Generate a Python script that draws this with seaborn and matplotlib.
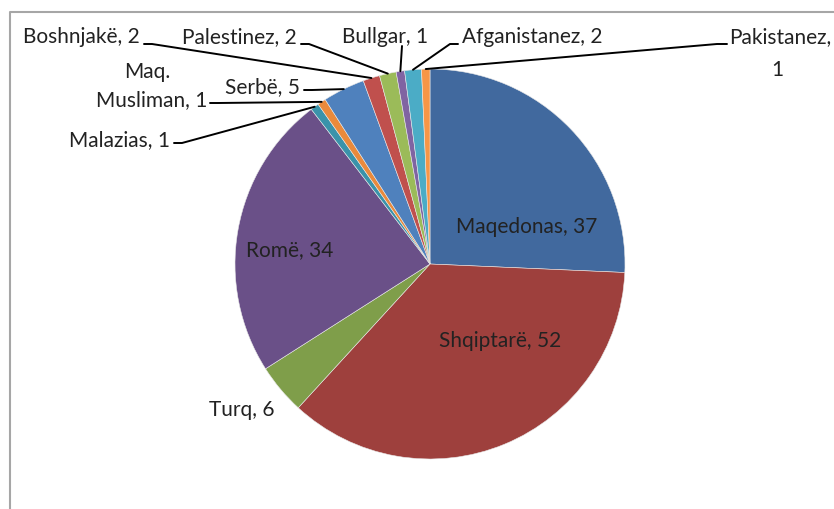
import numpy as np
import matplotlib
matplotlib.use("Agg")
import matplotlib.pyplot as plt
import seaborn as sns

# data (clockwise from 12 o'clock)
groups = ["Maqedonas", "Shqiptarë", "Turq", "Romë", "Malazias", "Maq.\nMusliman",
          "Serbë", "Boshnjakë", "Palestinez", "Bullgar", "Afganistanez", "Pakistanez"]
counts = [37, 52, 6, 34, 1, 1, 5, 2, 2, 1, 2, 1]
colors = ["#41699E", "#9E403D", "#7F9E4A", "#6A5088", "#3A93AA", "#E98A3C",
          "#4F81BD", "#C0504D", "#9BBB59", "#8064A2", "#4BACC6", "#F79646"]

sns.set_style("white")
plt.rcParams["font.family"] = ["Lato", "DejaVu Sans"]

W, H = 834, 510
fig = plt.figure(figsize=(W / 100, H / 100), dpi=100)
ax = fig.add_axes([0, 0, 1, 1])

cx, cy, r = 430, H - 265, 195
wedges, _ = ax.pie(counts, colors=colors, startangle=90, counterclock=False,
                   center=(cx, cy), radius=r, frame=True,
                   wedgeprops=dict(linewidth=0.4, edgecolor="#e8e8e8"))
ax.set_xlim(0, W)
ax.set_ylim(0, H)
ax.set_aspect("equal")
ax.axis("off")

# chart area border
ax.plot([10, 10, W + 5], [-5, H - 13, H - 13], color="#a6a6a6", lw=1.5, clip_on=False)

total = sum(counts)
cum = np.cumsum([0] + counts[:-1])
mid = 90 - 360 * (cum + np.array(counts) / 2) / total


def edge(i):
    a = np.deg2rad(mid[i])
    return cx + r * np.cos(a), cy + r * np.sin(a)


fs = 15
txt = dict(fontsize=fs, color="#222222")

# inside labels
inside = {0: (527, 227), 1: (500, 341), 3: (290, 250)}
for i, (px, py) in inside.items():
    ax.text(px, H - py, f"{groups[i]}, {counts[i]}", ha="center", va="center", **txt)

# Turq, outside without leader
ax.text(242, H - 410, f"{groups[2]}, {counts[2]}", ha="center", va="center", **txt)

# outside labels with leader lines: (text x, text y, ha, line start x, line start y)
outside = {
    7: (140, 37, "right", 144, 45),
    8: (297, 37, "right", 301, 45),
    9: (428, 37, "right", 402, 47),
    10: (462, 37, "left", 458, 45),
    6: (300, 87, "right", 304, 91),
    5: (207, 86, "right", 210, 104),
    4: (170, 140, "right", 174, 144),
}
for i, (tx, ty, ha, lx, ly) in outside.items():
    label = f"{groups[i]}, {counts[i]}"
    if "\n" in label:
        ax.text(tx - 60, H - ty + 14, "Maq.", ha="center", va="center", **txt)
        ax.text(tx, H - ty - 14, f"Musliman, {counts[i]}", ha=ha, va="center", **txt)
    else:
        ax.text(tx, H - ty, label, ha=ha, va="center", **txt)
    ex, ey = edge(i)
    dx = 8 if ha == "right" else -8
    if i == 9:
        ax.plot([lx, ex], [H - ly, ey], color="black", lw=1.4)
    else:
        ax.plot([lx, lx + dx, ex], [H - ly, H - ly, ey], color="black", lw=1.4)

# Pakistanez, label wraps at the right edge
ax.text(729, H - 37, f"{groups[11]},", ha="left", va="center", **txt)
ax.text(777, H - 70, f"{counts[11]}", ha="center", va="center", **txt)
ex, ey = edge(11)
ax.plot([727, 717, ex], [H - 45, H - 45, ey], color="black", lw=1.4)

fig.savefig("out.png", dpi=100, facecolor="white")
